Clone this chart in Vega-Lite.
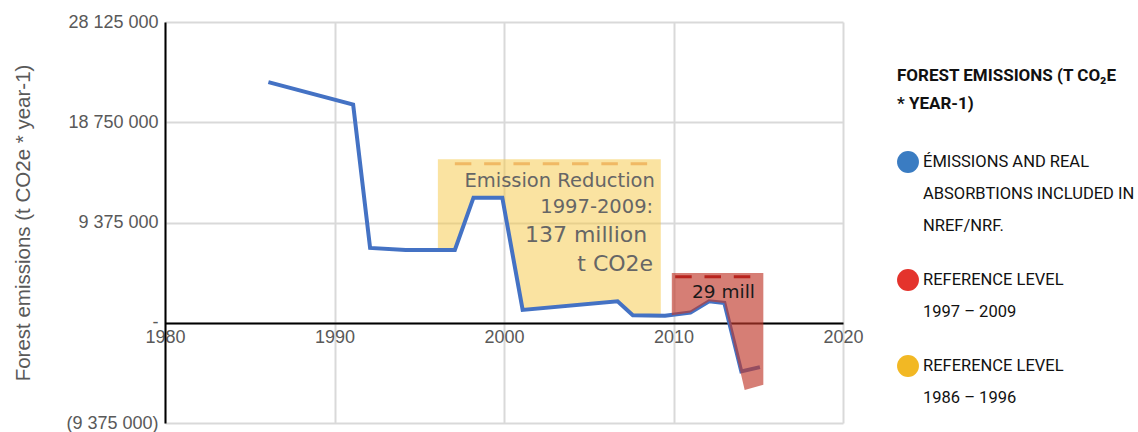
{
  "$schema": "https://vega.github.io/schema/vega-lite/v6.json",
  "width": 678,
  "height": 401,
  "autosize": {"type": "none"},
  "padding": {"left": 165, "top": 22, "right": 295, "bottom": 9},
  "background": "white",
  "config": {
    "view": {"stroke": null},
    "font": "Liberation Sans",
    "style": {"guide-label": {"lineHeight": 32}}
  },
  "datasets": {
    "blue": [
      {"year": 1986.1, "value": 22500000},
      {"year": 1991.1, "value": 20400000},
      {"year": 1992.1, "value": 7000000},
      {"year": 1994.2, "value": 6800000},
      {"year": 1997.1, "value": 6800000},
      {"year": 1998.2, "value": 11700000},
      {"year": 1999.9, "value": 11700000},
      {"year": 2001.1, "value": 1200000},
      {"year": 2006.7, "value": 2000000},
      {"year": 2007.6, "value": 700000},
      {"year": 2009.5, "value": 650000},
      {"year": 2011.0, "value": 950000},
      {"year": 2012.1, "value": 2000000},
      {"year": 2013.0, "value": 1850000},
      {"year": 2014.0, "value": -4550000},
      {"year": 2015.1, "value": -4150000}
    ],
    "yellow": [
      {"year": 1996.1, "top": 15300000, "bottom": 6800000},
      {"year": 1997.1, "top": 15300000, "bottom": 6800000},
      {"year": 1998.2, "top": 15300000, "bottom": 11700000},
      {"year": 1999.9, "top": 15300000, "bottom": 11700000},
      {"year": 2001.1, "top": 15300000, "bottom": 1200000},
      {"year": 2006.7, "top": 15300000, "bottom": 2000000},
      {"year": 2007.6, "top": 15300000, "bottom": 550000},
      {"year": 2009.25, "top": 15300000, "bottom": 500000}
    ],
    "red": [
      {"year": 2009.9, "top": 4650000, "bottom": 700000},
      {"year": 2011.0, "top": 4650000, "bottom": 950000},
      {"year": 2012.1, "top": 4650000, "bottom": 2000000},
      {"year": 2013.0, "top": 4650000, "bottom": 1850000},
      {"year": 2014.2, "top": 4650000, "bottom": -6300000},
      {"year": 2015.3, "top": 4650000, "bottom": -5800000}
    ],
    "yellowDash": [
      {"year": 1997.1, "value": 14860000},
      {"year": 2009.2, "value": 14860000}
    ],
    "redDash": [
      {"year": 2010.1, "value": 4300000},
      {"year": 2014.55, "value": 4300000}
    ],
    "textSmall": [
      {"label": "Emission Reduction", "year": 2008.9, "value": 12710000},
      {"label": "1997-2009:", "year": 2008.8, "value": 10280000}
    ],
    "textBig": [
      {"label": "137 million", "year": 2008.45, "value": 7570000},
      {"label": "t CO2e", "year": 2008.8, "value": 4860000}
    ],
    "textRed": [
      {"label": "29 mill", "year": 2012.95, "value": 2340000}
    ],
    "legend": [
      {"series": "emissions"},
      {"series": "ref1997"},
      {"series": "ref1986"}
    ]
  },
  "layer": [
    {
      "data": {"name": "yellow"},
      "mark": {"type": "area", "color": "#f6c744", "opacity": 0.5},
      "encoding": {
        "x": {
          "field": "year", "type": "quantitative",
          "scale": {"domain": [1980, 2020], "nice": false, "zero": false},
          "axis": {
            "values": [1980, 1990, 2000, 2010, 2020], "format": "d", "title": null,
            "offset": -100, "labelFontSize": 18, "labelColor": "#595959", "ticks": false,
            "labelPadding": 5, "domainColor": "#000000", "domainWidth": 2,
            "gridColor": "#d9d9d9", "gridWidth": 2, "labelFlush": false
          }
        },
        "y": {
          "field": "top", "type": "quantitative",
          "scale": {"domain": [-9375000, 28125000], "nice": false, "zero": false},
          "axis": {
            "values": [-9375000, 0, 9375000, 18750000, 28125000],
            "labelExpr": "datum.value == 0 ? '-' : datum.value < 0 ? '(' + replace(format(-datum.value, ','), regexp(',', 'g'), ' ') + ')' : replace(format(datum.value, ','), regexp(',', 'g'), ' ')",
            "title": "Forest emissions (t CO2e * year-1)",
            "titleFontSize": 20.5, "titleFontWeight": "normal", "titleColor": "#595959", "titlePadding": 32,
            "labelFontSize": 18, "labelColor": "#595959", "labelPadding": 7, "ticks": false,
            "domainColor": "#000000", "domainWidth": 2,
            "gridColor": "#d9d9d9", "gridWidth": 2
          }
        },
        "y2": {"field": "bottom"}
      }
    },
    {
      "data": {"name": "blue"},
      "mark": {"type": "line", "color": "#4472c4", "strokeWidth": 4},
      "encoding": {
        "x": {"field": "year", "type": "quantitative"},
        "y": {"field": "value", "type": "quantitative"}
      }
    },
    {
      "data": {"name": "red"},
      "mark": {"type": "area", "color": "#c0392b", "opacity": 0.65},
      "encoding": {
        "x": {"field": "year", "type": "quantitative"},
        "y": {"field": "top", "type": "quantitative"},
        "y2": {"field": "bottom"}
      }
    },
    {
      "data": {"name": "yellowDash"},
      "mark": {"type": "line", "color": "#f0b964", "strokeWidth": 3, "strokeDash": [16.5, 12.8]},
      "encoding": {
        "x": {"field": "year", "type": "quantitative"},
        "y": {"field": "value", "type": "quantitative"}
      }
    },
    {
      "data": {"name": "redDash"},
      "mark": {"type": "line", "color": "#b8241e", "strokeWidth": 3, "strokeDash": [16.5, 12.8]},
      "encoding": {
        "x": {"field": "year", "type": "quantitative"},
        "y": {"field": "value", "type": "quantitative"}
      }
    },
    {
      "data": {"name": "textSmall"},
      "mark": {"type": "text", "font": "DejaVu Sans", "fontSize": 19.5, "color": "#666666", "align": "right", "baseline": "alphabetic"},
      "encoding": {
        "x": {"field": "year", "type": "quantitative"},
        "y": {"field": "value", "type": "quantitative"},
        "text": {"field": "label"}
      }
    },
    {
      "data": {"name": "textBig"},
      "mark": {"type": "text", "font": "DejaVu Sans", "fontSize": 22, "color": "#666666", "align": "right", "baseline": "alphabetic"},
      "encoding": {
        "x": {"field": "year", "type": "quantitative"},
        "y": {"field": "value", "type": "quantitative"},
        "text": {"field": "label"}
      }
    },
    {
      "data": {"name": "textRed"},
      "mark": {"type": "text", "font": "DejaVu Sans", "fontSize": 18.5, "color": "#1a1a1a", "align": "center", "baseline": "alphabetic"},
      "encoding": {
        "x": {"field": "year", "type": "quantitative"},
        "y": {"field": "value", "type": "quantitative"},
        "text": {"field": "label"}
      }
    },
    {
      "data": {"name": "legend"},
      "mark": {"type": "point", "filled": true, "opacity": 1},
      "encoding": {
        "x": {"field": "year", "type": "quantitative"},
        "y": {"field": "value", "type": "quantitative"},
        "color": {
          "field": "series", "type": "nominal",
          "scale": {"domain": ["emissions", "ref1997", "ref1986"], "range": ["#3a7cc2", "#e4332c", "#f2b824"]},
          "legend": {
            "title": ["FOREST EMISSIONS (T CO₂E", "* YEAR-1)"],
            "orient": "none", "legendX": 732, "legendY": 46,
            "titleFont": "Roboto", "titleFontSize": 17, "titleFontWeight": "bold", "titleColor": "#111111",
            "titleLineHeight": 28, "titlePadding": 38, "titleLimit": 600,
            "labelFont": "Roboto", "labelFontSize": 16.5, "labelColor": "#111111", "labelLimit": 400,
            "symbolType": "circle", "symbolSize": 480, "symbolStrokeWidth": 0, "symbolOpacity": 1,
            "rowPadding": 34, "labelOffset": 4,
            "labelExpr": "datum.label == 'emissions' ? ['ÉMISSIONS AND REAL', 'ABSORBTIONS INCLUDED IN', 'NREF/NRF.'] : datum.label == 'ref1997' ? ['REFERENCE LEVEL', '1997 – 2009'] : ['REFERENCE LEVEL', ' 1986 – 1996']"
          }
        }
      }
    }
  ]
}
